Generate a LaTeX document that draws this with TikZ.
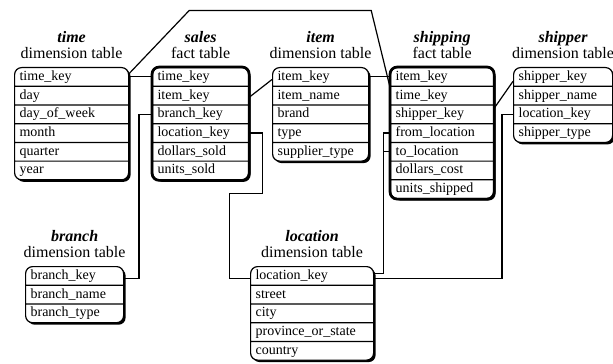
\documentclass[tikz,border=0pt]{standalone}
\usepackage{fontspec}
\setmainfont{Liberation Serif}
\usepackage{tikz}
\usetikzlibrary{shapes,shapes.multipart,shadows,positioning}

\begin{document}
\begin{tikzpicture}[x=0.5pt, y=-0.5pt, font=\fontsize{7}{8.75}\selectfont]
    % Define styles
    \tikzstyle{dimtable} = [rectangle split, draw=black, line width=0.6pt, rounded corners=3.5pt, anchor=north west, inner xsep=2.5pt, inner ysep=0pt, fill=white, drop shadow={shadow xshift=1pt, shadow yshift=-1pt, fill=black, opacity=1}]
    \tikzstyle{facttable} = [dimtable]
    \tikzstyle{tabletitle} = [align=center, font=\fontsize{8}{8}\selectfont, inner sep=1pt]
    \tikzstyle{link} = [draw=black, line width=0.6pt]

    \useasboundingbox (0,0) rectangle (613,363);

    % Tables
    \node[dimtable, rectangle split parts=6, text width=52pt] (time) at (14,67)
        {\strut time\_key \nodepart{two}\strut day \nodepart{three}\strut day\_of\_week \nodepart{four}\strut month \nodepart{five}\strut quarter \nodepart{six}\strut year};
    \node[facttable, rectangle split parts=6, text width=43pt] (sales) at (152,67)
        {\strut time\_key \nodepart{two}\strut item\_key \nodepart{three}\strut branch\_key \nodepart{four}\strut location\_key \nodepart{five}\strut dollars\_sold \nodepart{six}\strut units\_sold};
    \node[dimtable, rectangle split parts=5, text width=43pt] (item) at (272,67)
        {\strut item\_key \nodepart{two}\strut item\_name \nodepart{three}\strut brand \nodepart{four}\strut type \nodepart{five}\strut supplier\_type};
    \node[facttable, rectangle split parts=7, text width=46.5pt] (shipping) at (390,67)
        {\strut item\_key \nodepart{two}\strut time\_key \nodepart{three}\strut shipper\_key \nodepart{four}\strut from\_location \nodepart{five}\strut to\_location \nodepart{six}\strut dollars\_cost \nodepart{seven}\strut units\_shipped};
    \node[dimtable, rectangle split parts=4, text width=44.5pt] (shipper) at (513,67)
        {\strut shipper\_key \nodepart{two}\strut shipper\_name \nodepart{three}\strut location\_key \nodepart{four}\strut shipper\_type};
    \node[dimtable, rectangle split parts=3, text width=44pt] (branch) at (25,266)
        {\strut branch\_key \nodepart{two}\strut branch\_name \nodepart{three}\strut branch\_type};
    \node[dimtable, rectangle split parts=5, text width=56.5pt] (location) at (250,266)
        {\strut location\_key \nodepart{two}\strut street \nodepart{three}\strut city \nodepart{four}\strut province\_or\_state \nodepart{five}\strut country};

    % thick outline of the fact tables
    \foreach \fact in {sales, shipping}
        \draw[line width=1.3pt, rounded corners=3.5pt] (\fact.north west) rectangle (\fact.south east);

    % Titles
    \node[tabletitle, above=3pt of time] (time_title) {\textbf{\textit{time}}\\dimension table};
    \node[tabletitle, above=3pt of sales] (sales_title) {\textbf{\textit{sales}}\\fact table};
    \node[tabletitle, above=3pt of item] (item_title) {\textbf{\textit{item}}\\dimension table};
    \node[tabletitle, above=3pt of shipping] (shipping_title) {\textbf{\textit{shipping}}\\fact table};
    \node[tabletitle, above=3pt of shipper] (shipper_title) {\textbf{\textit{shipper}}\\dimension table};
    \node[tabletitle, above=3pt of branch] (branch_title) {\textbf{\textit{branch}}\\dimension table};
    \node[tabletitle, above=3pt of location] (location_title) {\textbf{\textit{location}}\\dimension table};

    % Connections
    \draw[link] ([yshift=4.7pt]time.text split east) -- ([yshift=4.7pt]sales.text split west);
    \draw[link] ([yshift=6.4pt]time.text split east) -- ++(30pt,31.5pt) -- ++(91pt,0) -- ([yshift=-0.5pt]shipping.text split west);
    \draw[link] ([yshift=-5.5pt]sales.text split east) -- ([yshift=3.4pt]item.text split west);
    \draw[link] ([yshift=4.7pt]item.text split east) -- ([yshift=4.7pt]shipping.text split west);
    \draw[link] ([yshift=-4.7pt]sales.two split west) -- ++(-6.5pt,0) |- ([yshift=3.4pt]branch.text split east);
    \draw[link] ([yshift=-4.7pt]sales.three split east) -- ++(6.5pt,0) -- ++(0,-30pt) -- ++(-16.5pt,0) |- ([yshift=3.4pt]location.text split west);
    \draw[link] ([yshift=5.9pt]location.text split east) -- ++(4.5pt,0) coordinate (loc_up) |- ([yshift=-4.7pt]shipping.three split west);
    \draw[link] ([yshift=-4.7pt]shipping.four split west) -- ([yshift=-4.7pt]shipping.four split west -| loc_up);
    \draw[link] ([yshift=-1.6pt]shipping.two split east) -- ([yshift=2.5pt]shipper.text split west);
    \draw[link] ([yshift=-4.7pt]shipper.two split west) -- ++(-5.5pt,0) |- ([yshift=3.4pt]location.text split east);
\end{tikzpicture}
\end{document}
